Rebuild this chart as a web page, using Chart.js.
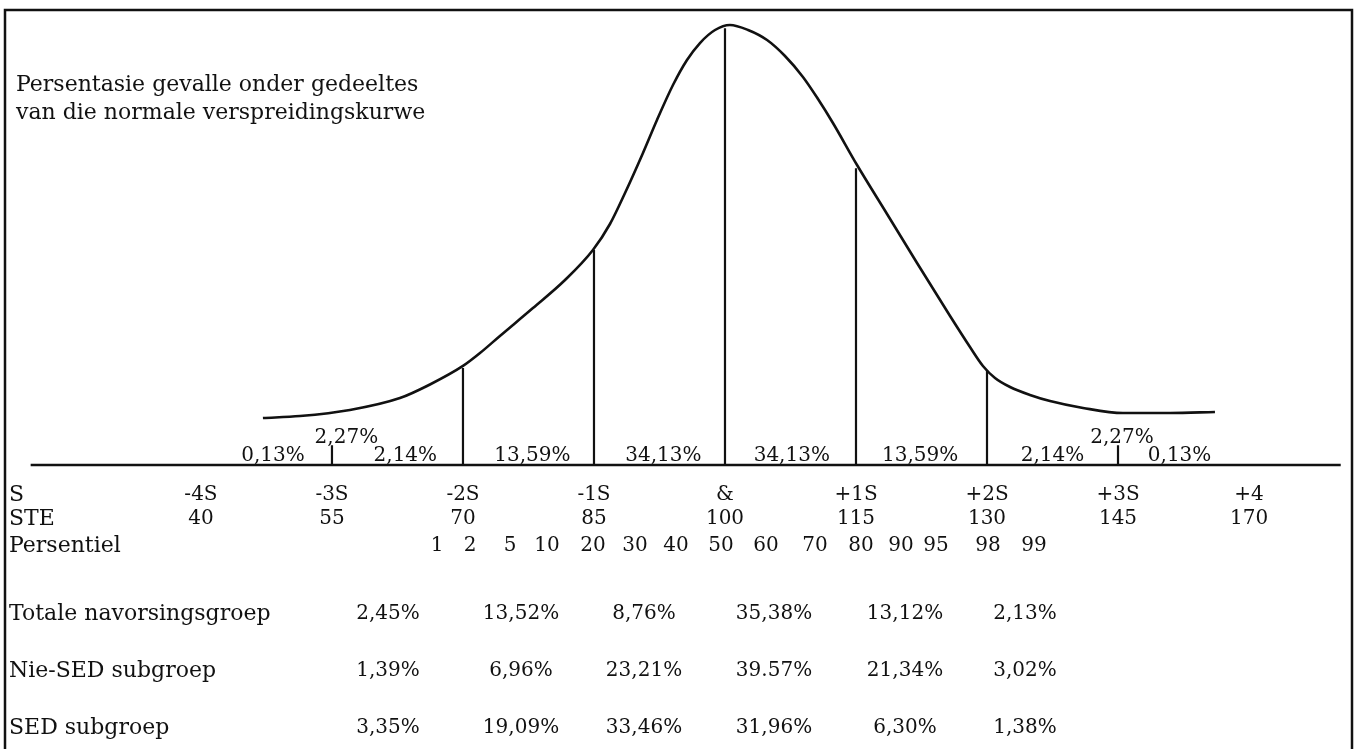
<!DOCTYPE html>
<html>
<head>
<meta charset="utf-8">
<script src="https://cdn.jsdelivr.net/npm/chart.js@4.4.1/dist/chart.umd.min.js"></script>
<style>
  html, body { margin: 0; padding: 0; background: #fff; }
  #wrap { position: relative; width: 1355px; height: 749px; }
</style>
</head>
<body>
<div id="wrap"><canvas id="c"></canvas></div>
<script>
// ---------- data ----------
const curveZ = [-3.527,-3.244,-2.863,-2.481,-2.252,-2.0,-1.870,-1.718,-1.466,-1.221,-1.008,-0.878,-0.763,-0.626,-0.519,-0.397,-0.290,-0.191,-0.076,0.038,0.176,0.321,0.458,0.595,0.710,0.824,1.008,1.237,1.466,1.718,1.870,1.969,2.061,2.176,2.328,2.481,2.733,3.038,3.397,3.740];
const curveY = [0.0426,0.0444,0.0499,0.0607,0.0730,0.0898,0.1015,0.1170,0.1423,0.1677,0.1949,0.2185,0.2466,0.2829,0.3128,0.3445,0.3672,0.3826,0.3944,0.3989,0.3944,0.3853,0.3708,0.3518,0.3318,0.3101,0.2720,0.2276,0.1831,0.1351,0.1070,0.0898,0.0789,0.0707,0.0635,0.0580,0.0517,0.0471,0.0471,0.0481];
const divisionZ = [-2,-1,0,1,2];
const divisionTop = [0.088,0.195,0.396,0.269,0.086];
const tickZ = [-3,3];
const tickTop = [0.018,0.018];
const areaLabels = ['0,13%','2,27%','2,14%','13,59%','34,13%','34,13%','13,59%','2,14%','2,27%','0,13%'];
const sdZ = [-4,-3,-2,-1,0,1,2,3,4];
const sdLabels = ['-4S','-3S','-2S','-1S','&','+1S','+2S','+3S','+4'];
const steLabels = ['40','55','70','85','100','115','130','145','170'];
const percentiles = ['1','2','5','10','20','30','40','50','60','70','80','90','95','98','99'];
const groupNames = ['Totale navorsingsgroep','Nie-SED subgroep','SED subgroep'];
const totaleVals = ['2,45%','13,52%','8,76%','35,38%','13,12%','2,13%'];
const nieSedVals = ['1,39%','6,96%','23,21%','39.57%','21,34%','3,02%'];
const sedVals = ['3,35%','19,09%','33,46%','31,96%','6,30%','1,38%'];
const titleLines = ['Persentasie gevalle onder gedeeltes','van die normale verspreidingskurwe'];

// ---------- layout (positions / styles) ----------
const L = {
  xMin: -5.534, xMax: 4.809, yMin: -0.2575, yMax: 0.4216,
  axisFrom: -5.30, axisTo: 4.70,
  areaLabelZ: [-3.45,-2.89,-2.44,-1.47,-0.47,0.51,1.49,2.50,3.03,3.47],
  areaLabelRaised: [false,true,false,false,false,false,false,false,true,false],
  areaLow: 461, areaHigh: 443,
  rowS: 495, rowSTE: 519, rowPers: 546,
  rowGroups: [614, 671, 728],
  labelX: 9,
  percX: [437,470,510,547,593,635,676,721,766,815,861,901,936,988,1034],
  colX: [388,521,644,774,905,1025],
  titleX: 16, titleY: [85,113],
  font: '"DejaVu Serif", "Liberation Serif", serif',
  size: 20, labelSize: 22, titleSize: 22
};

const curvePts = curveZ.map((z,i)=>({x:z,y:curveY[i]}));
const divPts = [];
divisionZ.forEach((z,i)=>{ divPts.push({x:z,y:0},{x:z,y:divisionTop[i]},{x:z,y:null}); });
const tickPts = [];
tickZ.forEach((z,i)=>{ tickPts.push({x:z,y:0},{x:z,y:tickTop[i]},{x:z,y:null}); });
const axisPts = [{x:L.axisFrom,y:0},{x:L.axisTo,y:0}];

const textPlugin = {
  id: 'texts',
  afterDraw(chart) {
    const ctx = chart.ctx;
    const xs = chart.scales.x;
    ctx.save();
    // frame
    ctx.strokeStyle = '#111';
    ctx.lineWidth = 2.5;
    ctx.beginPath();
    ctx.moveTo(5, 760); ctx.lineTo(5, 10); ctx.lineTo(1352, 10); ctx.lineTo(1352, 760);
    ctx.stroke();
    ctx.fillStyle = '#111';
    ctx.textBaseline = 'middle';
    ctx.font = L.titleSize + 'px ' + L.font;
    ctx.textAlign = 'left';
    titleLines.forEach((t,i)=>ctx.fillText(t, L.titleX, L.titleY[i]));
    ctx.font = L.size + 'px ' + L.font;
    // area percentages
    ctx.textAlign = 'center';
    ctx.textBaseline = 'alphabetic';
    areaLabels.forEach((t,i)=>{
      ctx.fillText(t, xs.getPixelForValue(L.areaLabelZ[i]), L.areaLabelRaised[i] ? L.areaHigh : L.areaLow);
    });
    ctx.textBaseline = 'middle';
    ctx.textAlign = 'center';
    sdLabels.forEach((t,i)=>ctx.fillText(t, xs.getPixelForValue(sdZ[i]), L.rowS));
    steLabels.forEach((t,i)=>ctx.fillText(t, xs.getPixelForValue(sdZ[i]), L.rowSTE));
    percentiles.forEach((t,i)=>ctx.fillText(t, L.percX[i], L.rowPers));
    [totaleVals, nieSedVals, sedVals].forEach((row,r)=>{
      row.forEach((t,i)=>ctx.fillText(t, L.colX[i], L.rowGroups[r]));
    });
    // row labels
    ctx.font = L.labelSize + 'px ' + L.font;
    ctx.textAlign = 'left';
    ctx.fillText('S', L.labelX, L.rowS);
    ctx.fillText('STE', L.labelX, L.rowSTE);
    ctx.fillText('Persentiel', L.labelX, L.rowPers);
    groupNames.forEach((g,i)=>ctx.fillText(g, L.labelX, L.rowGroups[i]));
    ctx.restore();
  }
};

new Chart(document.getElementById('c'), {
  type: 'scatter',
  data: {
    datasets: [
      { data: curvePts, showLine: true, borderColor: '#111', borderWidth: 2.6, pointRadius: 0, cubicInterpolationMode: 'monotone', fill: false },
      { data: divPts, showLine: true, borderColor: '#111', borderWidth: 2.2, pointRadius: 0, spanGaps: false },
      { data: tickPts, showLine: true, borderColor: '#111', borderWidth: 2.2, pointRadius: 0, spanGaps: false },
      { data: axisPts, showLine: true, borderColor: '#111', borderWidth: 2.4, pointRadius: 0 }
    ]
  },
  options: {
    responsive: true,
    maintainAspectRatio: false,
    animation: false,
    layout: { padding: 0 },
    plugins: { legend: { display: false }, tooltip: { enabled: false }, title: { display: false } },
    scales: {
      x: { type: 'linear', min: L.xMin, max: L.xMax, display: false },
      y: { type: 'linear', min: L.yMin, max: L.yMax, display: false }
    }
  },
  plugins: [textPlugin]
});
</script>
</body>
</html>
